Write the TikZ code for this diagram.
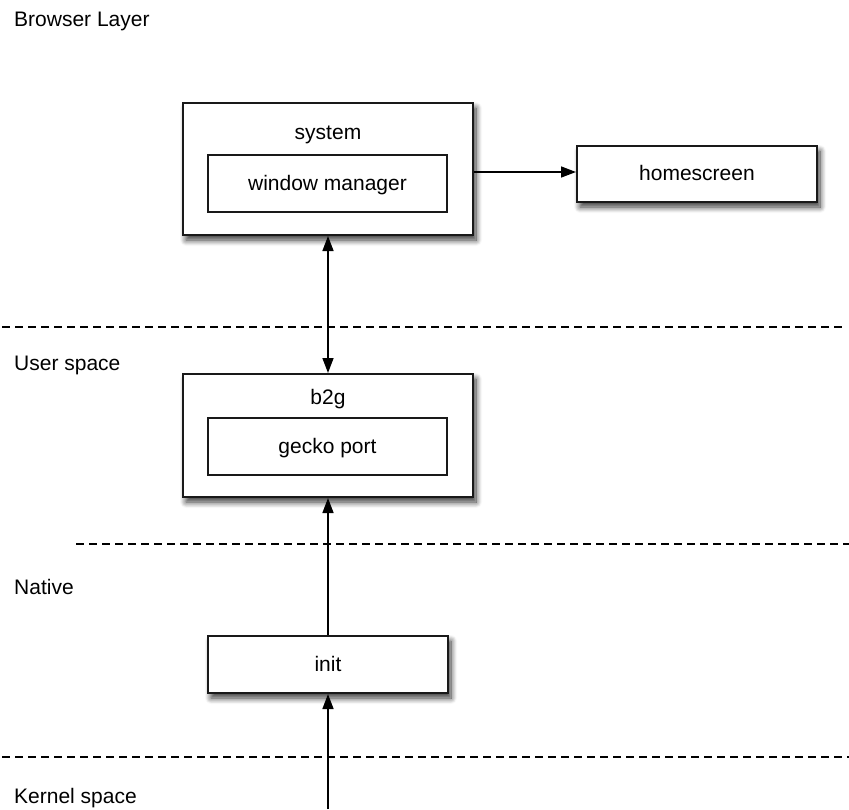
\documentclass[tikz,border=0pt]{standalone}
\usepackage{fontspec}
\setmainfont{Liberation Sans}
\usetikzlibrary{arrows.meta,shadows.blur}
\begin{document}
\begin{tikzpicture}[x=1pt,y=-1pt,
  font=\fontsize{21}{25}\selectfont,
  every node/.style={text height=15pt,text depth=2pt},
  box/.style={draw=black!90,line width=2pt,fill=white,rectangle,inner sep=0pt,
    blur shadow={shadow xshift=3pt,shadow yshift=-5pt,shadow blur steps=10,shadow opacity=80,shadow blur radius=6pt}},
  inbox/.style={draw=black!90,line width=1.5pt,fill=white,rectangle,inner sep=0pt,minimum width=239pt,minimum height=57pt},
  lbl/.style={anchor=west,inner sep=0pt},
  sep/.style={line width=1.5pt,dash pattern=on 8pt off 5pt},
  arr/.style={line width=1.5pt,-{Triangle[length=15pt,width=11pt]}},
  darr/.style={line width=1.5pt,{Triangle[length=15pt,width=11pt]}-{Triangle[length=15pt,width=11pt]}}]
\useasboundingbox (0,0) rectangle (849,809);
% layer labels
\node[lbl] (lbrowser) at (14,20) {Browser Layer};
\node[lbl] (luser) at (14,364) {User space};
\node[lbl] (lnative) at (14,588) {Native};
\node[lbl] (lkernel) at (14,797) {Kernel space};
% separators
\draw[sep] (2,327) -- (845,327);
\draw[sep] (76,544) -- (849,544);
\draw[sep] (2,757) -- (849,757);
% boxes
\node[box,minimum width=290pt,minimum height=132pt] (sys) at (328,169) {};
\node (systxt) at (328,133) {system};
\node[inbox] (wm) at (327.5,183.5) {window manager};
\node[box,minimum width=240pt,minimum height=56pt] (hs) at (697,174) {homescreen};
\node[box,minimum width=290pt,minimum height=123pt] (b2g) at (328,435.5) {};
\node (b2gtxt) at (328,398) {b2g};
\node[inbox] (gp) at (327.5,446.5) {gecko port};
\node[box,minimum width=240pt,minimum height=57pt] (init) at (328,664.5) {init};
\coordinate (kern) at (328,809);
% connectors
\draw[arr] (sys.east |- 0,172) -- (hs.west |- 0,172);
\draw[darr] (sys.south) -- (b2g.north);
\draw[arr] (init.north) -- (b2g.south);
\draw[arr] (kern) -- (init.south);
\end{tikzpicture}
\end{document}
